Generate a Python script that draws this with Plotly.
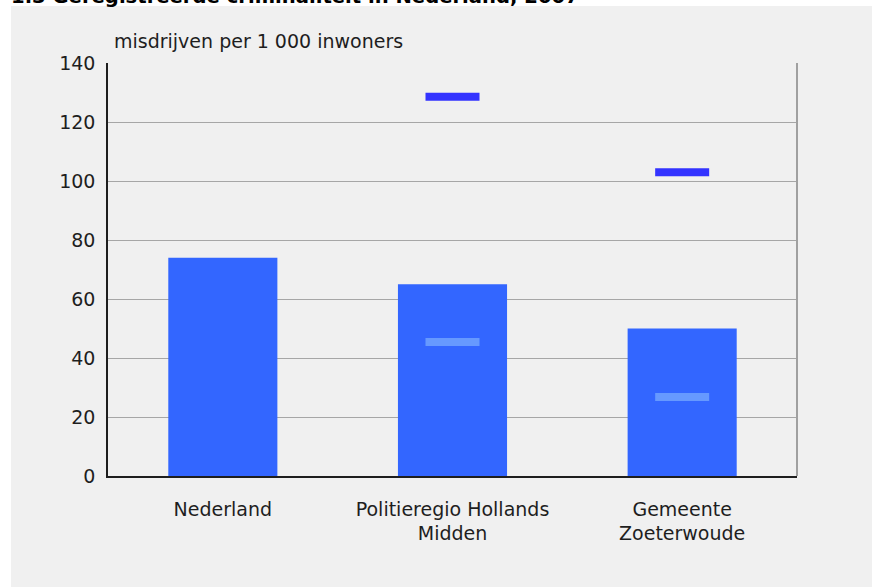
import plotly.graph_objects as go

# ---- data ----
categories = ["Nederland", "Politieregio Hollands<br>Midden", "Gemeente<br>Zoeterwoude"]
gemiddelde = [74, 65, 50]
hoogste = [None, 128.6, 103]
laagste = [None, 45.4, 26.8]
y_ticks = [0, 20, 40, 60, 80, 100, 120, 140]
title_text = "1.3 Geregistreerde criminaliteit in Nederland, 2007"
y_title = "misdrijven per 1 000 inwoners"

W, H = 872, 587
L, R, T, B = 108, 75, 63, 111
pw, ph = W - L - R, H - T - B

def px_x(px):
    return (px - L) / pw

def px_y(py):
    return (H - B - py) / ph

FONT = "DejaVu Sans"
TXT = "#1e1e1e"
DASH_LEN = 54  # pixels

fig = go.Figure()
fig.add_trace(go.Bar(
    x=categories, y=gemiddelde, name="Gemiddelde",
    marker=dict(color="#3366ff", line=dict(width=0)),
    hoverinfo="x+y",
))
fig.add_trace(go.Scatter(
    x=categories, y=hoogste, mode="markers", name="Hoogste",
    marker=dict(symbol="line-ew", size=DASH_LEN / 1.4, color="#3333ff",
                line=dict(width=8, color="#3333ff")),
))
fig.add_trace(go.Scatter(
    x=categories, y=laagste, mode="markers", name="Laagste",
    marker=dict(symbol="line-ew", size=DASH_LEN / 1.4, color="#6699ff",
                line=dict(width=8, color="#6699ff")),
))

fig.update_layout(
    width=W, height=H, autosize=False,
    margin=dict(l=L, r=R, t=T, b=B, pad=0),
    paper_bgcolor="#f0f0f0", plot_bgcolor="#f0f0f0",
    showlegend=False, bargap=0.525,
    font=dict(family=FONT, size=19, color=TXT),
    xaxis=dict(
        type="category", showgrid=False, zeroline=False,
        showline=True, linecolor="#1e1e1e", linewidth=1.5,
        ticks="", ticklabelstandoff=15,
        tickfont=dict(family=FONT, size=19, color=TXT),
    ),
    yaxis=dict(
        range=[0, 140], tickvals=y_ticks, showgrid=True,
        gridcolor="#a6a6a6", gridwidth=1.2, zeroline=False,
        showline=True, linecolor="#1e1e1e", linewidth=1.5,
        ticks="", ticklabelstandoff=7,
        tickfont=dict(family=FONT, size=19, color=TXT),
    ),
    shapes=[
        # right border of plot frame
        dict(type="line", xref="paper", yref="paper", x0=1, x1=1, y0=0, y1=1,
             line=dict(color="#a0a0a0", width=2)),
        # white strips (page margin outside the grey panel)
        dict(type="rect", xref="paper", yref="paper",
             x0=px_x(-10), x1=px_x(11), y0=px_y(600), y1=px_y(-10),
             fillcolor="white", line=dict(width=0), layer="below"),
        dict(type="rect", xref="paper", yref="paper",
             x0=px_x(-10), x1=px_x(880), y0=px_y(6), y1=px_y(-10),
             fillcolor="white", line=dict(width=0), layer="below"),
    ],
    annotations=[
        dict(text=y_title, xref="paper", yref="paper",
             x=px_x(112), y=px_y(53.8), xanchor="left", yanchor="bottom",
             showarrow=False, font=dict(family=FONT, size=19, color=TXT)),
        dict(text="<b>" + title_text + "</b>", xref="paper", yref="paper",
             x=px_x(9), y=px_y(10), xanchor="left", yanchor="bottom",
             showarrow=False, font=dict(family=FONT, size=19.6, color="#000000")),
    ],
)

fig.write_html("out.html",
               config={"displayModeBar": False},
               post_script="document.body.style.margin='0';document.body.style.padding='0';")
